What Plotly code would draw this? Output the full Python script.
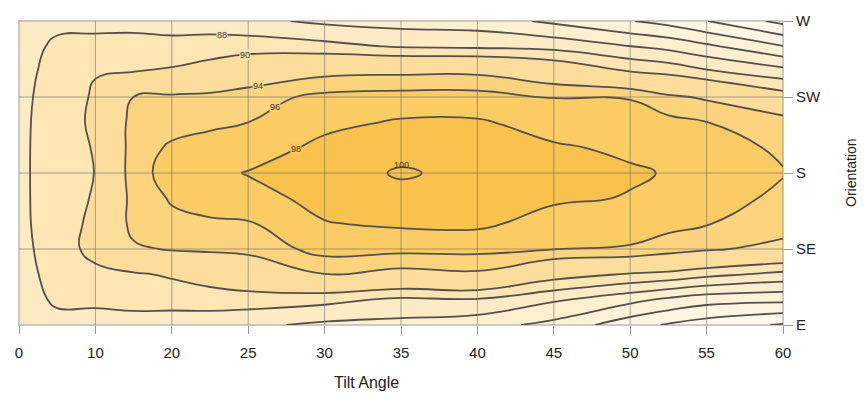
import numpy as np
import plotly.graph_objects as go

# ---- axis categories / ticks ----
tilt_ticks = [0, 10, 20, 25, 30, 35, 40, 45, 50, 55, 60]
orient_labels = ["E", "SE", "S", "SW", "W"]
orient_deg = [90, 135, 180, 225, 270]

# sample columns (positions on the evenly spaced tilt axis) and rows (orientation, deg)
col_pos = [0, 0.25, 0.5, 1, 1.5, 2, 2.5, 3, 4, 5, 6, 7, 8, 8.5, 9, 10]
row_deg = [90, 105, 120, 135, 150, 165, 180, 195, 210, 225, 240, 255, 270]

# relative yield (%), each column listed from W (top) down to E (bottom)
col_00 = [87.4, 87.5, 87.5, 87.5, 87.5, 87.5, 87.5, 87.5, 87.5, 87.5, 87.5, 87.5, 87.4]
col_01 = [87.5, 87.8, 88.02, 88.18, 88.3, 88.35, 88.36, 88.35, 88.3, 88.15, 87.98, 87.8, 87.5]
col_02 = [87.6, 88.3, 88.8, 89.1, 89.2, 89.0, 88.8, 89.0, 89.3, 89.4, 89.0, 88.2, 87.6]
col_03 = [87.6, 88.4, 89.92, 90.2, 90.3, 90.15, 90.05, 90.2, 90.35, 90.4, 89.7, 88.15, 87.7]
col_04 = [87.3, 88.8, 89.98, 94.02, 94.9, 95.0, 95.1, 94.8, 94.8, 93.6, 89.7, 88.4, 87.5]
col_05 = [87.2, 88.6, 90.3, 94.4, 95.2, 96.3, 96.9, 96.2, 95.5, 94.2, 90.3, 88.6, 87.2]
col_06 = [87.0, 88.9, 91.0, 94.6, 95.6, 96.8, 97.5, 96.9, 95.7, 94.4, 91.2, 88.8, 87.0]
col_07 = [86.5, 89.1, 92.0, 95.2, 96.0, 97.0, 98.1, 97.3, 95.8, 94.6, 92.0, 89.0, 86.4]
col_08 = [85.6, 88.6, 93.4, 96.5, 97.5, 98.5, 99.3, 98.6, 97.9, 96.8, 93.95, 88.6, 85.6]
col_09 = [85.2, 87.8, 93.6, 96.8, 98.2, 99.5, 100.15, 99.55, 98.3, 96.6, 93.2, 87.6, 85.4]
col_10 = [85.0, 87.6, 93.6, 96.8, 98.2, 99.2, 99.6, 99.3, 98.4, 96.6, 93.6, 87.8, 84.8]
col_11 = [83.6, 87.3, 92.2, 95.9, 97.3, 98.2, 98.9, 98.3, 97.2, 96.02, 91.0, 86.3, 83.4]
col_12 = [82.1, 86.02, 90.02, 95.9, 96.8, 97.7, 98.2, 97.9, 97.0, 95.8, 89.8, 84.6, 80.8]
col_13 = [81.3, 85.4, 89.4, 94.4, 96.6, 97.3, 97.9, 97.3, 96.6, 95.0, 89.4, 83.6, 79.8]
col_14 = [80.05, 84.4, 88.3, 93.7, 96.02, 96.8, 97.2, 96.8, 96.1, 94.3, 88.6, 82.8, 79.0]
col_15 = [77.4, 82.1, 86.8, 91.0, 95.1, 95.7, 96.1, 95.6, 95.0, 93.3, 87.4, 82.5, 77.8]

columns = [col_00, col_01, col_02, col_03, col_04, col_05, col_06, col_07,
           col_08, col_09, col_10, col_11, col_12, col_13, col_14, col_15]
z = np.array(columns).T[::-1]  # rows ordered E -> W to match row_deg

# contour levels that carry a label in the chart, and the tilt-axis position of each label
label_levels = [88, 90, 94, 96, 98, 100]
label_at_x = [2.66, 2.96, 3.13, 3.35, 3.63, 5.0]


def upper_crossing(level, xp):
    """Orientation (deg) where the level is first crossed going down from W, at axis position xp."""
    vals = [np.interp(xp, col_pos, z[r]) for r in range(len(row_deg))]
    for r in range(len(row_deg) - 1, 0, -1):
        a, b = vals[r], vals[r - 1]
        if (a - level) * (b - level) <= 0 and a != b:
            t = (level - a) / (b - a)
            return row_deg[r] + t * (row_deg[r - 1] - row_deg[r])
    return row_deg[len(row_deg) // 2]


# band colours: below 76, 76-78, ..., 98-100, above 100
band_colors = ["#fffdf9", "#fffbf4", "#fff9ec", "#fef6e3", "#fef2d9", "#feefcf",
               "#fdebc5", "#fde5b4", "#fddd9b", "#fddd9b", "#fcd47e", "#fbcb64",
               "#f9c24c", "#f9c24c"]
n = len(band_colors) - 1
band_scale = [[i / n, c] for i, c in enumerate(band_colors)]
label_bg = ["#fde8bd", "#fde1a8", "#fcd88c", "#fbd070", "#fac658", "rgba(0,0,0,0)"]

line_col = "#55504d"

fig = go.Figure()
fig.add_trace(go.Contour(
    x=col_pos, y=row_deg, z=z, autocontour=False,
    contours=dict(start=76, end=100, size=2, coloring="fill", showlines=False),
    colorscale=band_scale, showscale=False, line=dict(width=0, smoothing=1.3),
    hoverinfo="skip"))
for (s, e) in [(76, 90), (94, 100)]:
    fig.add_trace(go.Contour(
        x=col_pos, y=row_deg, z=z, autocontour=False,
        contours=dict(start=s, end=e, size=2, coloring="none", showlabels=False),
        line=dict(color=line_col, width=1.8, smoothing=1.3),
        showscale=False, hoverinfo="skip"))

grid_col = "rgba(100,100,100,0.55)"
shapes = []
for i in range(len(tilt_ticks)):
    shapes.append(dict(type="line", xref="x", yref="paper", x0=i, x1=i, y0=0, y1=1,
                       line=dict(color=grid_col, width=1), layer="above"))
for d in orient_deg:
    shapes.append(dict(type="line", xref="paper", yref="y", x0=0, x1=1, y0=d, y1=d,
                       line=dict(color=grid_col, width=1), layer="above"))

annotations = []
for lv, lx, bg in zip(label_levels, label_at_x, label_bg):
    annotations.append(dict(text=str(lv), x=lx, y=upper_crossing(lv, lx), xref="x", yref="y",
                            showarrow=False, yshift=2 if lv == 100 else 0,
                            font=dict(family="Liberation Sans Narrow, Liberation Sans", size=9,
                                      color="#3a3530"),
                            bgcolor=bg, borderpad=0))
annotations += [
    dict(text="Tilt Angle", xref="paper", yref="paper", x=0.455, y=-0.19,
         xanchor="center", yanchor="middle", showarrow=False,
         font=dict(family="Liberation Sans Narrow, Liberation Sans", size=16, color="#222")),
    dict(text="Orientation", xref="paper", yref="paper", x=1.089, y=0.5,
         xanchor="center", yanchor="middle", textangle=-90, showarrow=False,
         font=dict(family="Liberation Sans, Arial", size=14, color="#222")),
]

tick_font = dict(family="Liberation Sans Narrow, Arial Narrow, Liberation Sans", size=15, color="#222")
fig.update_layout(
    width=864, height=398,
    margin=dict(l=19, r=81, t=18, b=73),
    paper_bgcolor="white", plot_bgcolor="white",
    showlegend=False,
    shapes=shapes,
    annotations=annotations,
    xaxis=dict(range=[0, len(tilt_ticks) - 1], tickvals=list(range(len(tilt_ticks))),
               ticktext=[str(t) for t in tilt_ticks], tickfont=tick_font,
               ticks="outside", ticklen=8, tickcolor="#999", showgrid=False,
               showline=True, linecolor="#c8c8c8", mirror=True, zeroline=False,
               ticklabelstandoff=6),
    yaxis=dict(range=[orient_deg[0], orient_deg[-1]], tickvals=orient_deg, ticktext=orient_labels,
               side="right", tickfont=dict(family="Liberation Sans, Arial", size=15, color="#222"),
               ticks="outside", ticklen=9, tickcolor="#999", showgrid=False,
               showline=True, linecolor="#c8c8c8", mirror=True, zeroline=False),
)

fig.write_html("out.html")
